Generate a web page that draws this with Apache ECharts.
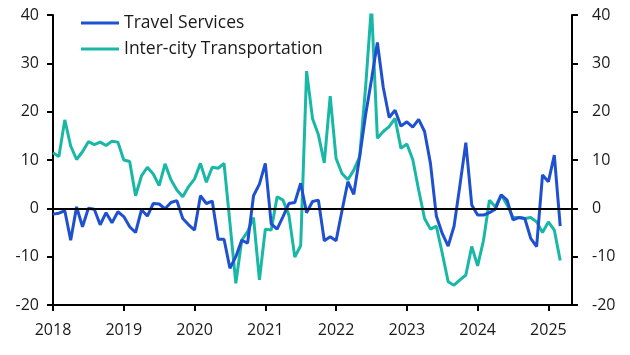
<!DOCTYPE html>
<html>
<head>
<meta charset="utf-8">
<script src="https://cdn.jsdelivr.net/npm/echarts@6/dist/echarts.min.js"></script>
<style>
html,body{margin:0;padding:0;background:#fff;}
#c{width:630px;height:355px;}
</style>
</head>
<body>
<div id="c"></div>
<script>
// Monthly, Jan 2018 .. Mar 2025
const seriesNames = ["Travel Services", "Inter-city Transportation"];
const yearLabels = ["2018","2019","2020","2021","2022","2023","2024","2025"];

const travelServices = [
  -1.2,-1.0,-0.5,-6.6,0.3,-3.8,0.0,-0.2,-3.4,-0.9,-3.0,-0.7,
  -1.7,-3.8,-5.0,-0.3,-1.6,1.0,0.9,-0.1,1.2,1.6,-2.1,-3.4,
  -4.5,2.6,1.0,1.5,-6.4,-6.4,-12.4,-10.0,-6.6,-7.2,2.6,5.0,
  9.3,-3.2,-4.3,-1.7,1.0,1.2,5.2,-0.9,1.4,1.7,-6.7,-5.9,
  -6.7,-0.5,5.5,2.9,10.7,19.3,26.6,34.3,25.0,18.8,20.3,17.0,
  17.9,16.8,18.4,15.9,9.3,-1.6,-5.2,-7.8,-3.7,4.8,13.6,0.7,
  -1.4,-1.4,-0.9,-0.2,2.8,1.7,-2.4,-1.9,-2.1,-6.2,-7.9,6.9,
  5.5,11.0,-3.7
];
const interCity = [
  11.5,10.7,18.3,12.9,10.1,11.7,13.8,13.2,13.7,13.0,13.9,13.7,
  10.0,9.7,2.6,6.7,8.5,7.1,4.7,9.2,5.9,3.8,2.4,4.5,
  6.1,9.3,5.4,8.5,8.3,9.3,-3.0,-15.5,-6.6,-4.8,-1.9,-14.8,
  -4.3,-4.5,2.4,1.7,-1.4,-10.1,-7.7,28.4,18.6,15.2,9.4,23.2,
  10.3,7.2,5.9,7.9,10.7,25.0,42.0,14.5,15.9,16.9,18.6,12.4,
  13.3,10.1,3.8,-2.1,-4.3,-3.7,-9.3,-15.2,-15.9,-14.8,-13.8,-7.9,
  -11.9,-6.6,1.7,0.3,2.8,0.7,-1.9,-1.9,-2.1,-1.9,-2.8,-5.0,
  -2.8,-4.5,-10.8
];

// month categories Jan 2018 .. May 2025 (axis extends past last data point)
const months = [];
for (let y = 2018; y <= 2025; y++) {
  for (let m = 1; m <= 12; m++) {
    if (y === 2025 && m > 5) break;
    months.push(y + "-" + (m < 10 ? "0" + m : m));
  }
}

const FONT = "Open Sans";
const TXT = "#1a1a1a";

const yAxisBase = {
  type: "value", min: -20, max: 40, interval: 10,
  axisLine: {show: true, lineStyle: {color: "#000", width: 2}},
  axisTick: {show: true, inside: false, length: 6, lineStyle: {color: "#000", width: 2}},
  splitLine: {show: false},
  axisLabel: {color: TXT, fontFamily: FONT, fontSize: 16}
};

const chart = echarts.init(document.getElementById("c"), null, {renderer: "canvas"});
chart.setOption({
  animation: false,
  grid: {left: 53, right: 58, top: 15, bottom: 50, containLabel: false},
  legend: {
    data: seriesNames,
    orient: "vertical", left: 76, top: 9,
    icon: "rect", itemWidth: 38, itemHeight: 3, itemGap: 8,
    textStyle: {color: TXT, fontFamily: FONT, fontSize: 17.5}
  },
  xAxis: {
    type: "category", data: months, boundaryGap: false,
    axisLine: {onZero: false, lineStyle: {color: "#000", width: 2}},
    axisTick: {show: true, length: 6, alignWithLabel: true,
      interval: function (i) { return i % 12 === 0; },
      lineStyle: {color: "#000", width: 2}},
    axisLabel: {
      interval: function (i) { return i % 12 === 0; },
      formatter: function (v) { const y = v.slice(0,4); return yearLabels.indexOf(y) >= 0 ? y : ""; },
      color: TXT, fontFamily: FONT, fontSize: 16, margin: 17
    },
    splitLine: {show: false}
  },
  yAxis: [
    Object.assign({}, yAxisBase, {position: "left", axisLabel: Object.assign({}, yAxisBase.axisLabel, {margin: 14})}),
    Object.assign({}, yAxisBase, {position: "right", axisLabel: Object.assign({}, yAxisBase.axisLabel, {margin: 20})})
  ],
  series: [
    {
      name: "zero", type: "line", data: [], z: 1, silent: true,
      markLine: {silent: true, symbol: "none", label: {show: false},
        lineStyle: {color: "#000", width: 2, type: "solid"},
        data: [{yAxis: 0}]}
    },
    {
      name: seriesNames[0], type: "line", data: travelServices, z: 3,
      symbol: "none", clip: true,
      lineStyle: {color: "#1F50CF", width: 3}, itemStyle: {color: "#1F50CF"}
    },
    {
      name: seriesNames[1], type: "line", data: interCity, z: 2,
      symbol: "none", clip: true,
      lineStyle: {color: "#19B7A6", width: 3}, itemStyle: {color: "#19B7A6"}
    }
  ]
});
</script>
</body>
</html>
